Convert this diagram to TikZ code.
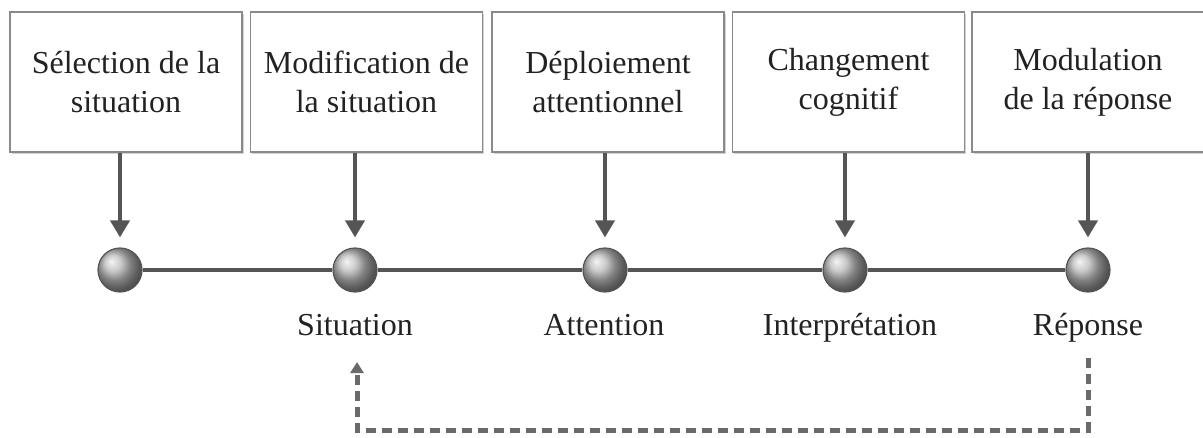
\documentclass[tikz,border=0pt]{standalone}
\usepackage{fontspec}
\setmainfont{Liberation Serif}
\usetikzlibrary{arrows.meta, shadows}

\definecolor{linegray}{HTML}{555555}
\definecolor{boxgray}{HTML}{8A8A8A}
\definecolor{txtgray}{HTML}{222222}
\definecolor{dashgray}{HTML}{6A6A6A}

\tikzset{
    strategy/.style={draw=boxgray, line width=1.2pt, fill=white, rectangle,
        minimum width=232pt, minimum height=140pt, align=center,
        text=txtgray, font=\fontsize{32}{39}\selectfont,
        drop shadow={shadow xshift=1.5pt, shadow yshift=-1.5pt, opacity=0.35}},
    stage/.style={circle, draw=linegray, line width=1.2pt, ball color=gray!55,
        minimum size=44pt, inner sep=0pt},
    lbl/.style={anchor=base, text=txtgray, font=\fontsize{32}{38}\selectfont},
    act/.style={draw=linegray, line width=4pt,
        -{Triangle[length=17pt, width=19pt]}, shorten >=10pt},
    fb/.style={draw=dashgray, line width=5pt, dash pattern=on 10pt off 6pt,
        -{Triangle[length=11pt, width=13pt]}}
}

\begin{document}
\begin{tikzpicture}[x=1pt, y=1pt]
    \useasboundingbox (0,0) rectangle (1203,-437);

    % Nodes
    \node[strategy] (sel) at (126,-82)   {Sélection de la\\situation};
    \node[strategy] (mod) at (366.5,-82) {Modification de\\la situation};
    \node[strategy] (dep) at (608,-82)   {Déploiement\\attentionnel};
    \node[strategy] (chg) at (848.5,-82) {Changement\\cognitif};
    \node[strategy] (mdl) at (1088,-82)  {Modulation\\de la réponse};

    \node[stage] (p1) at (120,-270)  {};
    \node[stage] (p2) at (355,-270)  {};
    \node[stage] (p3) at (605,-270)  {};
    \node[stage] (p4) at (845,-270)  {};
    \node[stage] (p5) at (1088,-270) {};

    \node[lbl] (sit) at (355,-335)  {Situation};
    \node[lbl] (att) at (604,-335)  {Attention};
    \node[lbl] (itp) at (850,-335)  {Interprétation};
    \node[lbl] (rep) at (1088,-335) {Réponse};

    \coordinate (fbs) at (1088,-358);
    \coordinate (fbc) at (1088,-430);
    \coordinate (fbe) at (357,-362);

    % Edges
    \draw[linegray, line width=4pt] (p1) -- (p2) -- (p3) -- (p4) -- (p5);

    \draw[act] (sel.south -| p1) -- (p1);
    \draw[act] (mod.south -| p2) -- (p2);
    \draw[act] (dep.south -| p3) -- (p3);
    \draw[act] (chg.south -| p4) -- (p4);
    \draw[act] (mdl.south -| p5) -- (p5);

    \draw[fb] (fbs) -- (fbc) -| (fbe);
\end{tikzpicture}
\end{document}
